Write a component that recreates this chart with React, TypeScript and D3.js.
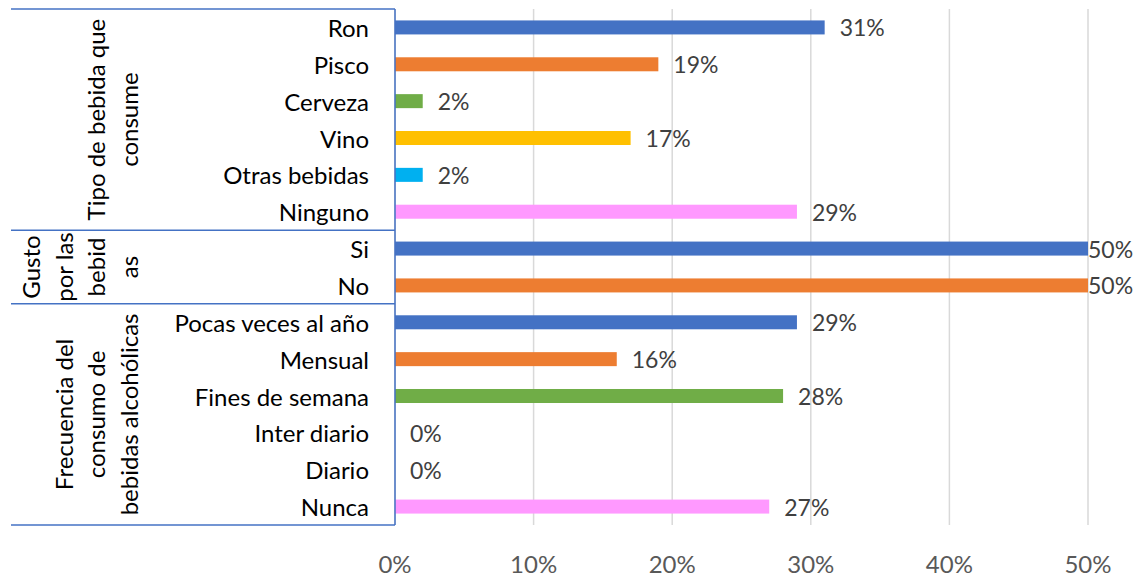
import React from "react";
import * as d3 from "d3";

const groupLabels: string[][] = [
  ["Tipo de bebida que", "consume"],
  ["Gusto", "por las", "bebid", "as"],
  ["Frecuencia del", "consumo de", "bebidas alcohólicas"],
];
const groupSizes = [6, 2, 6];

const categories = [
  "Ron", "Pisco", "Cerveza", "Vino", "Otras bebidas", "Ninguno",
  "Si", "No",
  "Pocas veces al año", "Mensual", "Fines de semana", "Inter diario", "Diario", "Nunca",
];
const values = [31, 19, 2, 17, 2, 29, 50, 50, 29, 16, 28, 0, 0, 27];
const barColors = [
  "#4472C4", "#ED7D31", "#70AD47", "#FFC000", "#00B0F0", "#FF99FF",
  "#4472C4", "#ED7D31",
  "#4472C4", "#ED7D31", "#70AD47", "#FFC000", "#00B0F0", "#FF99FF",
];
const ticks = [0, 10, 20, 30, 40, 50];

const W = 1140;
const H = 576;
const FONT = "Lato, 'Open Sans', sans-serif";

export default function App() {
  const x = d3.scaleLinear().domain([0, 50]).range([395, 1088]);
  const y = d3
    .scaleBand<number>()
    .domain(d3.range(categories.length))
    .range([9, 525])
    .paddingInner(0.62)
    .paddingOuter(0.31);
  const step = y.step();
  const top = 9;
  const bottom = 525;

  const bounds: number[] = [0];
  groupSizes.forEach((s, i) => bounds.push(bounds[i] + s));

  return (
    <svg
      width={W}
      height={H}
      style={{ position: "absolute", left: 0, top: 0, background: "#fff" }}
      fontFamily={FONT}
    >
      {ticks.map((t) => (
        <line
          key={"g" + t}
          x1={x(t)}
          x2={x(t)}
          y1={top}
          y2={bottom}
          stroke="#D9D9D9"
          strokeWidth={1.5}
        />
      ))}
      {values.map((v, i) => (
        <rect
          key={"b" + i}
          x={x(0)}
          y={y(i)!}
          width={Math.max(0, x(v) - x(0))}
          height={y.bandwidth()}
          fill={barColors[i]}
        />
      ))}
      {values.map((v, i) => (
        <text
          key={"l" + i}
          x={Math.min(x(v) + 15, W - 52)}
          y={y(i)! + y.bandwidth() / 2}
          dominantBaseline="central"
          fontSize={23}
          fill="#404040"
        >
          {v + "%"}
        </text>
      ))}
      {categories.map((c, i) => (
        <text
          key={"c" + i}
          x={369}
          y={y(i)! + y.bandwidth() / 2}
          dominantBaseline="central"
          textAnchor="end"
          fontSize={24}
          fill="#000"
        >
          {c}
        </text>
      ))}
      {bounds.map((b, i) => (
        <line
          key={"s" + i}
          x1={11}
          x2={395}
          y1={top + b * step}
          y2={top + b * step}
          stroke="#4472C4"
          strokeWidth={1.5}
        />
      ))}
      <line x1={395} x2={395} y1={top} y2={bottom} stroke="#4472C4" strokeWidth={1.5} />
      {groupLabels.map((lines, gi) => {
        const yc = top + ((bounds[gi] + bounds[gi + 1]) / 2) * step;
        return lines.map((ln, li) => {
          const xc = 128 - (lines.length - 1 - li) * 32.5;
          return (
            <text
              key={"gl" + gi + "_" + li}
              transform={`translate(${xc},${yc}) rotate(-90)`}
              textAnchor="middle"
              dominantBaseline="central"
              fontSize={24}
              fill="#000"
            >
              {ln}
            </text>
          );
        });
      })}
      {ticks.map((t) => (
        <text
          key={"t" + t}
          x={x(t)}
          y={563}
          textAnchor="middle"
          dominantBaseline="central"
          fontSize={24}
          fill="#595959"
        >
          {t + "%"}
        </text>
      ))}
    </svg>
  );
}
